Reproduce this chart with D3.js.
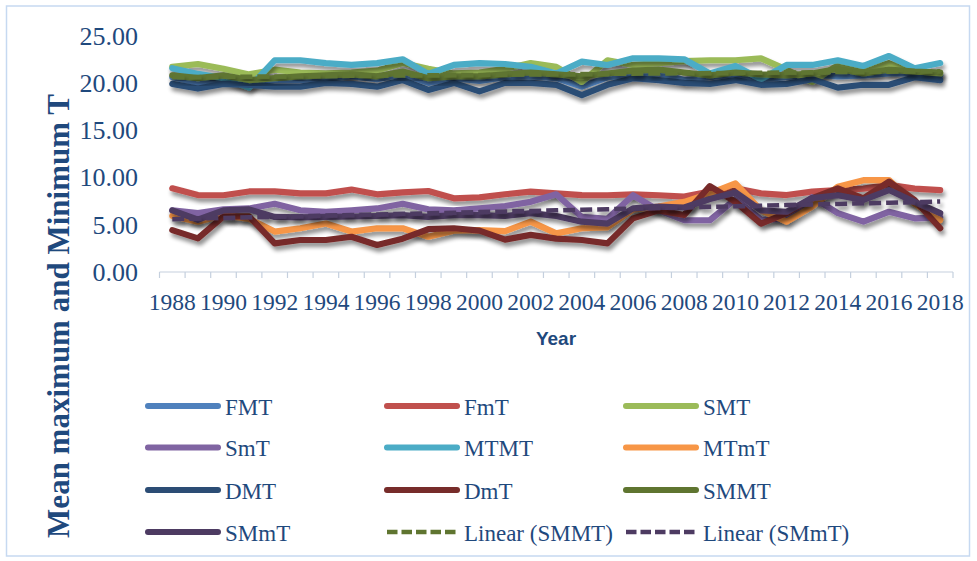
<!DOCTYPE html>
<html><head><meta charset="utf-8">
<script src="https://cdn.jsdelivr.net/npm/d3@7/dist/d3.min.js"></script>
<style>body{margin:0;background:#fff;}svg{display:block;}</style>
</head><body>
<svg id="chart" width="977" height="561"></svg>
<script>
const years = d3.range(1988, 2019);
const yTicks = [0, 5, 10, 15, 20, 25];
const xTickLabels = d3.range(1988, 2019, 2);

const FMT  = [20.6,20.0,20.5,19.9,20.3,20.3,20.5,20.7,20.4,20.9,20.0,20.5,20.2,20.6,20.7,20.5,19.6,20.6,20.8,21.0,20.3,20.6,20.9,20.4,20.6,20.9,20.7,20.8,21.0,21.0,20.8];
const FmT  = [8.83,8.12,8.1,8.5,8.5,8.3,8.3,8.7,8.2,8.4,8.55,7.77,7.87,8.2,8.48,8.3,8.12,8.1,8.2,8.1,7.95,8.48,8.83,8.3,8.12,8.48,8.65,8.8,9.2,8.8,8.65];
const SMT  = [21.7,22.0,21.5,20.9,21.4,21.1,21.0,21.1,21.3,22.1,21.5,21.0,21.1,21.5,22.1,21.7,20.1,22.4,21.9,22.1,22.3,22.4,22.4,22.6,21.4,20.1,21.9,21.4,22.1,21.2,21.0];
const SmT  = [6.5,6.2,6.6,6.7,7.2,6.5,6.35,6.5,6.7,7.2,6.6,6.5,6.7,6.96,7.4,8.2,5.8,5.6,8.1,6.5,5.47,5.45,7.7,5.5,5.6,7.9,6.2,5.3,6.35,5.65,5.75];
const MTMT = [21.55,20.95,20.5,19.5,22.4,22.4,22.1,21.9,22.1,22.5,20.95,21.9,22.1,22.0,21.7,21.0,22.25,21.9,22.6,22.6,22.5,21.0,21.8,20.4,21.9,21.9,22.4,21.8,22.85,21.55,22.1];
const MTmT = [5.9,5.3,6.0,5.6,4.25,4.6,5.1,4.25,4.6,4.6,3.7,4.35,4.4,4.3,5.3,4.06,4.6,4.7,6.6,6.9,7.4,8.3,9.36,6.5,5.3,6.9,9.0,9.7,9.7,7.2,5.47];
const DMT  = [19.9,19.4,19.9,19.8,19.6,19.6,20.0,19.9,19.6,20.3,19.25,20.0,19.1,20.0,20.0,19.8,18.7,19.8,20.5,20.3,20.0,19.9,20.3,19.8,19.9,20.4,19.5,19.8,19.8,20.6,20.3];
const DmT  = [4.4,3.53,5.86,5.86,3.0,3.36,3.36,3.7,2.83,3.5,4.5,4.6,4.35,3.4,3.9,3.5,3.36,3.0,5.65,6.5,6.0,9.07,7.4,5.1,6.2,7.8,8.83,7.77,9.54,7.6,4.6];
const SMMT = [20.8,20.5,20.8,20.3,20.5,20.7,20.8,20.9,20.7,21.2,20.5,20.7,20.7,20.9,21.1,20.9,20.7,21.0,21.3,21.4,21.1,20.8,21.1,20.9,20.8,21.0,21.5,21.0,21.4,21.2,21.1];
const SMmT = [6.5,5.5,6.5,6.6,5.8,5.75,5.8,5.85,5.9,6.0,5.8,6.0,6.0,5.9,6.2,5.9,5.3,5.1,6.7,6.9,6.8,7.7,8.4,6.5,6.35,7.8,8.1,7.6,8.65,7.4,6.2];

const seriesNames = ["FMT","FmT","SMT","SmT","MTMT","MTmT","DMT","DmT","SMMT","SMmT"];
const seriesData = [FMT,FmT,SMT,SmT,MTMT,MTmT,DMT,DmT,SMMT,SMmT];
const seriesColors = ["#4F81BD","#C0504D","#9BBB59","#8064A2","#4BACC6","#F79646","#2C4D75","#772C2A","#5F7530","#4D3B62"];

const svg = d3.select("#chart");
const navy = "#1F497D";
const serif = "'Liberation Serif', 'Times New Roman', Times, serif";

svg.append("rect").attr("x",6.5).attr("y",6).attr("width",963).attr("height",550)
  .attr("fill","#fff").attr("stroke","#C6D9F1").attr("stroke-width",1.5);

const defs = svg.append("defs");
const f = defs.append("filter").attr("id","shadow").attr("x","-5%").attr("y","-50%").attr("width","110%").attr("height","200%");
f.append("feGaussianBlur").attr("in","SourceAlpha").attr("stdDeviation",2.2).attr("result","b");
f.append("feOffset").attr("in","b").attr("dx",2).attr("dy",4).attr("result","o");
const ct = f.append("feComponentTransfer").attr("in","o").attr("result","s");
ct.append("feFuncA").attr("type","linear").attr("slope",0.45);
const m = f.append("feMerge");
m.append("feMergeNode").attr("in","s");
m.append("feMergeNode").attr("in","SourceGraphic");

const x = d3.scalePoint().domain(years).range([159.5, 953]).padding(0.5);
const y = d3.scaleLinear().domain([0,25]).range([271.7, 35.7]);
const step = x.step();

const axisG = svg.append("g");
axisG.append("line").attr("x1",159.5).attr("x2",953).attr("y1",272).attr("y2",272)
  .attr("stroke","#C5D0DE").attr("stroke-width",1.2);
d3.range(0, years.length+1).forEach(i=>{
  const xx = 159.5 + i*step;
  axisG.append("line").attr("x1",xx).attr("x2",xx).attr("y1",272).attr("y2",278)
    .attr("stroke","#C5D0DE").attr("stroke-width",1.2);
});
svg.append("g").selectAll("text").data(xTickLabels).join("text")
  .attr("x",d=>x(d)).attr("y",310).attr("text-anchor","middle")
  .attr("font-family",serif).attr("font-size",24).attr("fill",navy)
  .attr("textLength",47).attr("lengthAdjust","spacingAndGlyphs")
  .text(d=>d);

svg.append("g").selectAll("text").data(yTicks).join("text")
  .attr("x",138).attr("y",d=>y(d)).attr("dy","0.35em").attr("text-anchor","end")
  .attr("font-family",serif).attr("font-size",26).attr("fill",navy)
  .text(d=>d3.format(".2f")(d));

svg.append("text").attr("transform","translate(69,316) rotate(-90)").attr("text-anchor","middle")
  .attr("font-family",serif).attr("font-weight","bold").attr("font-size",31).attr("fill",navy)
  .text("Mean maximum and Minimum T");
svg.append("text").attr("x",556).attr("y",345).attr("text-anchor","middle")
  .attr("font-family","'Liberation Sans', Arial, sans-serif").attr("font-weight","bold").attr("font-size",19).attr("fill",navy)
  .text("Year");

const line = d3.line().x((d,i)=>x(years[i])).y(d=>y(d));
const linesG = svg.append("g");
seriesData.forEach((s,k)=>{
  linesG.append("path").attr("d",line(s)).attr("fill","none")
    .attr("stroke",seriesColors[k]).attr("stroke-width",6.2)
    .attr("stroke-linejoin","round").attr("stroke-linecap","round")
    .attr("filter","url(#shadow)");
});

function fit(arr){
  const n=arr.length, xs=d3.range(n);
  const mx=d3.mean(xs), my=d3.mean(arr);
  let num=0,den=0; xs.forEach((xi,i)=>{num+=(xi-mx)*(arr[i]-my);den+=(xi-mx)*(xi-mx);});
  const b=num/den, a=my-b*mx;
  return xs.map(xi=>a+b*xi);
}
const trends = [{data:fit(SMMT),color:"#5F7530"},{data:fit(SMmT),color:"#4D3B62"}];
trends.forEach(t=>{
  linesG.append("path").attr("d",line(t.data)).attr("fill","none")
    .attr("stroke",t.color).attr("stroke-width",4.5).attr("stroke-dasharray","12,5")
    .attr("filter","url(#shadow)");
});

const legendItems = seriesNames.map((n,k)=>({name:n,color:seriesColors[k],dash:false}))
  .concat([{name:"Linear (SMMT)",color:"#5F7530",dash:true},{name:"Linear (SMmT)",color:"#4D3B62",dash:true}]);
const colX = [148, 387, 626];
const rowY = [406, 447.5, 490, 532];
const lg = svg.append("g");
legendItems.forEach((it,i)=>{
  const c = i%3, r = Math.floor(i/3);
  const lx = colX[c], ly = rowY[r];
  const ln = lg.append("line").attr("x1",lx).attr("x2",lx+70).attr("y1",ly).attr("y2",ly)
    .attr("stroke",it.color);
  if(it.dash){ ln.attr("stroke-width",4.5).attr("stroke-dasharray","10.5,4"); }
  else { ln.attr("stroke-width",6).attr("stroke-linecap","round"); }
  lg.append("text").attr("x",lx+77).attr("y",ly+8.5)
    .attr("font-family",serif).attr("font-size",23).attr("fill",navy)
    .text(it.name);
});
</script>
</body></html>
